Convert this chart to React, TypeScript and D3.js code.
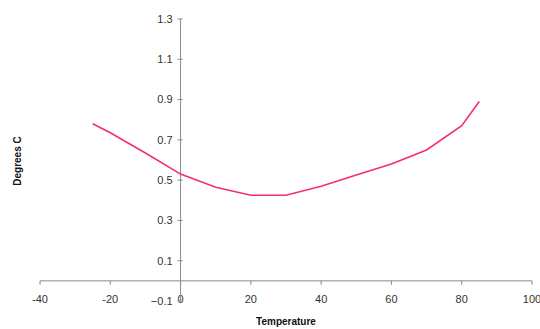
import React, { useEffect, useRef } from 'react';
import * as d3 from 'd3';

const temps = [-25, -20, -10, 0, 10, 20, 30, 40, 50, 60, 70, 80, 85];
const degrees = [0.78, 0.735, 0.635, 0.53, 0.465, 0.425, 0.425, 0.47, 0.525, 0.58, 0.65, 0.77, 0.89];
const xTicks = [-40, -20, 0, 20, 40, 60, 80, 100];
const yTicks = [-0.1, 0.1, 0.3, 0.5, 0.7, 0.9, 1.1, 1.3];

const W = 540;
const H = 329;

export default function App() {
  const ref = useRef<SVGSVGElement>(null);

  useEffect(() => {
    const svg = d3.select(ref.current);
    svg.selectAll('*').remove();

    const x = d3.scaleLinear().domain([-40, 100]).range([40, 532]);
    const y = d3.scaleLinear().domain([-0.1, 1.3]).range([301, 19]);
    const axisColor = '#8a8a8a';
    const font = 'Liberation Sans, Arial, sans-serif';

    // x axis at y = 0
    const gx = svg.append('g').attr('transform', `translate(0,${y(0)})`);
    gx.append('line').attr('x1', x(-40)).attr('x2', x(100)).attr('stroke', axisColor);
    gx.selectAll('.xt').data(xTicks).enter().append('line')
      .attr('x1', d => x(d)).attr('x2', d => x(d)).attr('y1', 0).attr('y2', 4)
      .attr('stroke', axisColor);
    gx.selectAll('.xl').data(xTicks).enter().append('text')
      .attr('x', d => x(d)).attr('y', 22)
      .attr('text-anchor', 'middle')
      .attr('font-family', font).attr('font-size', 11).attr('fill', '#333')
      .text(d => d);

    // y axis at x = 0
    const gy = svg.append('g').attr('transform', `translate(${x(0)},0)`);
    gy.append('line').attr('y1', y(1.3)).attr('y2', y(-0.1)).attr('stroke', axisColor);
    gy.selectAll('.yt').data(yTicks).enter().append('line')
      .attr('x1', -3).attr('x2', 2).attr('y1', d => y(d)).attr('y2', d => y(d))
      .attr('stroke', axisColor);
    gy.selectAll('.yl').data(yTicks).enter().append('text')
      .attr('x', -8).attr('y', d => y(d)).attr('dy', '0.35em')
      .attr('text-anchor', 'end')
      .attr('font-family', font).attr('font-size', 11).attr('fill', '#333')
      .text(d => d3.format('.1f')(d));

    const line = d3.line<number>()
      .x((_, i) => x(temps[i]))
      .y(d => y(d));
    svg.append('path')
      .datum(degrees)
      .attr('d', line)
      .attr('fill', 'none')
      .attr('stroke', '#f2306a')
      .attr('stroke-width', 1.6);

    svg.append('text')
      .attr('x', 286).attr('y', 325)
      .attr('text-anchor', 'middle')
      .attr('font-family', font).attr('font-size', 10).attr('font-weight', 'bold')
      .attr('fill', '#111')
      .text('Temperature');

    svg.append('text')
      .attr('transform', 'translate(21,161) rotate(-90)')
      .attr('text-anchor', 'middle')
      .attr('font-family', font).attr('font-size', 10).attr('font-weight', 'bold')
      .attr('fill', '#111')
      .text('Degrees C');
  }, []);

  return (
    <svg ref={ref} width={W} height={H}
      style={{ position: 'absolute', left: 0, top: 0, background: '#fff' }} />
  );
}
